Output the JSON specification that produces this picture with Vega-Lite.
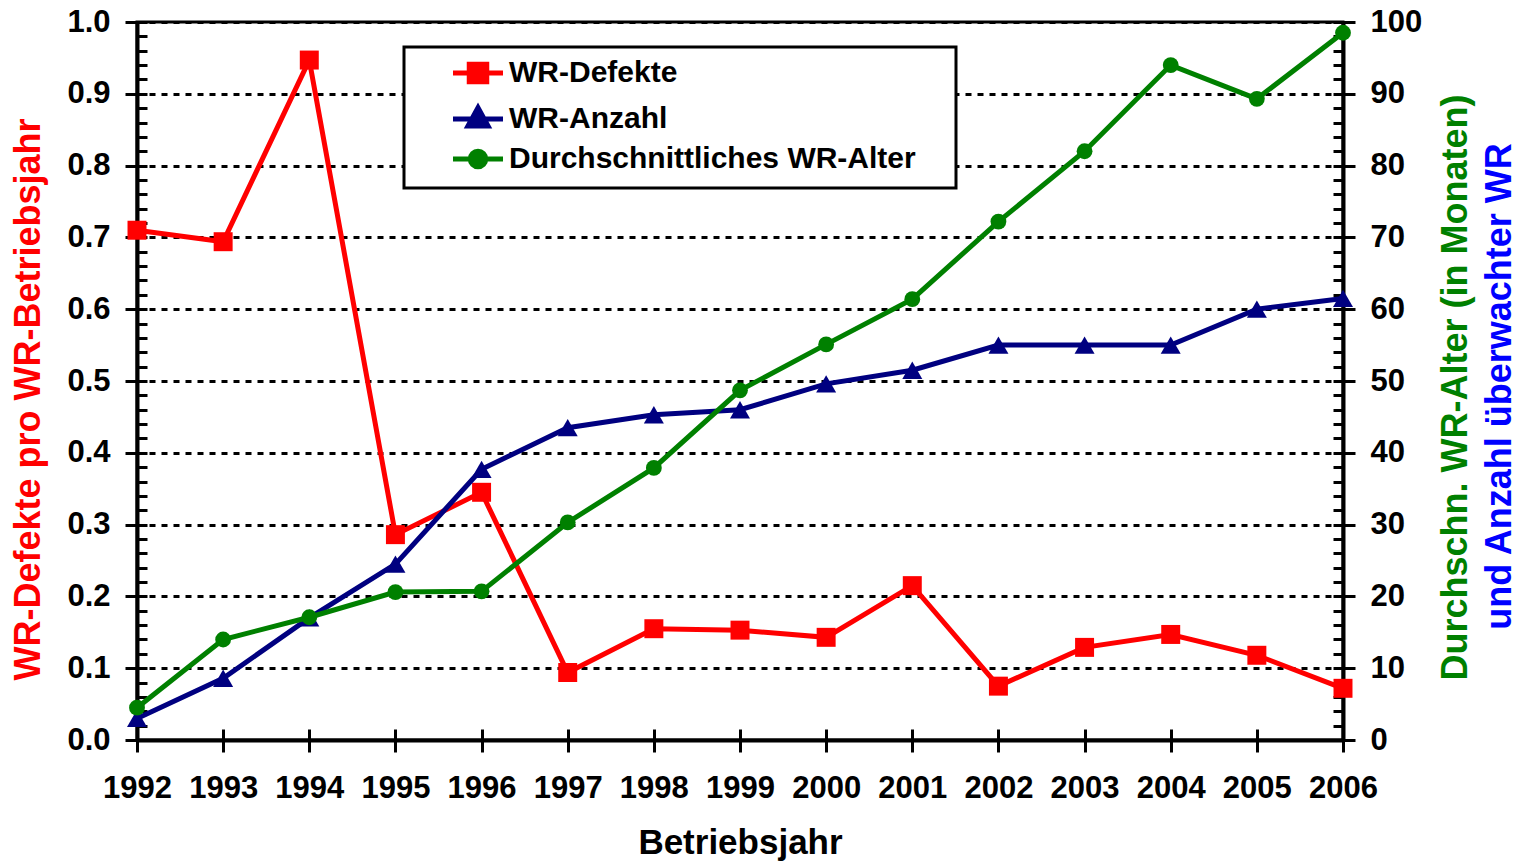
{
  "$schema": "https://vega.github.io/schema/vega-lite/v6.json",
  "width": 1206,
  "height": 718,
  "autosize": "none",
  "padding": {"left": 137, "top": 22, "right": 180, "bottom": 123},
  "background": "white",
  "config": {
    "view": {"stroke": "black", "strokeWidth": 3},
    "font": "Liberation Sans"
  },
  "datasets": {
    "defekte": [
      {"year": 1992, "value": 0.710, "series": "WR-Defekte"},
      {"year": 1993, "value": 0.694, "series": "WR-Defekte"},
      {"year": 1994, "value": 0.947, "series": "WR-Defekte"},
      {"year": 1995, "value": 0.286, "series": "WR-Defekte"},
      {"year": 1996, "value": 0.345, "series": "WR-Defekte"},
      {"year": 1997, "value": 0.094, "series": "WR-Defekte"},
      {"year": 1998, "value": 0.155, "series": "WR-Defekte"},
      {"year": 1999, "value": 0.153, "series": "WR-Defekte"},
      {"year": 2000, "value": 0.143, "series": "WR-Defekte"},
      {"year": 2001, "value": 0.215, "series": "WR-Defekte"},
      {"year": 2002, "value": 0.075, "series": "WR-Defekte"},
      {"year": 2003, "value": 0.129, "series": "WR-Defekte"},
      {"year": 2004, "value": 0.147, "series": "WR-Defekte"},
      {"year": 2005, "value": 0.118, "series": "WR-Defekte"},
      {"year": 2006, "value": 0.072, "series": "WR-Defekte"}
    ],
    "anzahl": [
      {"year": 1992, "value": 3.0, "series": "WR-Anzahl"},
      {"year": 1993, "value": 8.6, "series": "WR-Anzahl"},
      {"year": 1994, "value": 17.0, "series": "WR-Anzahl"},
      {"year": 1995, "value": 24.5, "series": "WR-Anzahl"},
      {"year": 1996, "value": 37.7, "series": "WR-Anzahl"},
      {"year": 1997, "value": 43.5, "series": "WR-Anzahl"},
      {"year": 1998, "value": 45.3, "series": "WR-Anzahl"},
      {"year": 1999, "value": 46.0, "series": "WR-Anzahl"},
      {"year": 2000, "value": 49.6, "series": "WR-Anzahl"},
      {"year": 2001, "value": 51.5, "series": "WR-Anzahl"},
      {"year": 2002, "value": 55.0, "series": "WR-Anzahl"},
      {"year": 2003, "value": 55.0, "series": "WR-Anzahl"},
      {"year": 2004, "value": 55.0, "series": "WR-Anzahl"},
      {"year": 2005, "value": 60.0, "series": "WR-Anzahl"},
      {"year": 2006, "value": 61.5, "series": "WR-Anzahl"}
    ],
    "alter": [
      {"year": 1992, "value": 4.5, "series": "Durchschnittliches WR-Alter"},
      {"year": 1993, "value": 14.0, "series": "Durchschnittliches WR-Alter"},
      {"year": 1994, "value": 17.1, "series": "Durchschnittliches WR-Alter"},
      {"year": 1995, "value": 20.6, "series": "Durchschnittliches WR-Alter"},
      {"year": 1996, "value": 20.7, "series": "Durchschnittliches WR-Alter"},
      {"year": 1997, "value": 30.3, "series": "Durchschnittliches WR-Alter"},
      {"year": 1998, "value": 37.9, "series": "Durchschnittliches WR-Alter"},
      {"year": 1999, "value": 48.7, "series": "Durchschnittliches WR-Alter"},
      {"year": 2000, "value": 55.1, "series": "Durchschnittliches WR-Alter"},
      {"year": 2001, "value": 61.4, "series": "Durchschnittliches WR-Alter"},
      {"year": 2002, "value": 72.2, "series": "Durchschnittliches WR-Alter"},
      {"year": 2003, "value": 82.0, "series": "Durchschnittliches WR-Alter"},
      {"year": 2004, "value": 94.0, "series": "Durchschnittliches WR-Alter"},
      {"year": 2005, "value": 89.3, "series": "Durchschnittliches WR-Alter"},
      {"year": 2006, "value": 98.5, "series": "Durchschnittliches WR-Alter"}
    ]
  },
  "layer": [
    {
      "data": {"name": "defekte"},
      "layer": [
        {
          "mark": {"type": "line", "strokeWidth": 5},
          "encoding": {
            "x": {
              "field": "year", "type": "quantitative",
              "scale": {"domain": [1992, 2006], "nice": false, "zero": false},
              "axis": {
                "orient": "bottom",
                "values": [1992, 1993, 1994, 1995, 1996, 1997, 1998, 1999, 2000, 2001, 2002, 2003, 2004, 2005, 2006],
                "format": "d",
                "tickSize": 12, "tickWidth": 3, "tickColor": "black",
                "domainColor": "black", "domainWidth": 4,
                "labelFont": "Liberation Sans", "labelFontSize": 31, "labelFontWeight": "bold", "labelColor": "black",
                "labelPadding": 21, "labelFlush": false, "labelOverlap": false,
                "grid": false,
                "title": "Betriebsjahr",
                "titleFont": "Liberation Sans", "titleFontSize": 35, "titleFontWeight": "bold", "titleColor": "black",
                "titleX": 603, "titleY": 113, "titleBaseline": "alphabetic", "titleAlign": "center"
              }
            },
            "y": {
              "field": "value", "type": "quantitative",
              "scale": {"domain": [0, 1], "nice": false, "zero": false},
              "axis": {
                "orient": "left",
                "values": [0, 0.1, 0.2, 0.3, 0.4, 0.5, 0.6, 0.7, 0.8, 0.9, 1.0],
                "format": ".1f",
                "tickSize": 12, "tickWidth": 3, "tickColor": "black",
                "domainColor": "black", "domainWidth": 4,
                "labelFont": "Liberation Sans", "labelFontSize": 31, "labelFontWeight": "bold", "labelColor": "black",
                "labelPadding": 15, "labelOverlap": false, "labelFlush": false,
                "grid": true, "gridColor": "black", "gridWidth": 3, "gridDash": [6, 6],
                "title": "WR-Defekte pro WR-Betriebsjahr",
                "titleFont": "Liberation Sans", "titleFontSize": 36, "titleFontWeight": "bold", "titleColor": "#ff0000",
                "titleAngle": 270, "titleAlign": "center", "titleBaseline": "alphabetic",
                "titleX": -98, "titleY": 377
              }
            },
            "color": {
              "field": "series", "type": "nominal",
              "scale": {
                "domain": ["WR-Defekte", "WR-Anzahl", "Durchschnittliches WR-Alter"],
                "range": ["#ff0000", "#000080", "#008000"]
              },
              "legend": {
                "orient": "none", "legendX": 267, "legendY": 25,
                "title": null,
                "fillColor": "white", "strokeColor": "black",
                "padding": 11,
                "symbolOffset": 48,
                "symbolSize": 625,
                "symbolStrokeWidth": 4,
                "labelFont": "Liberation Sans", "labelFontSize": 30, "labelFontWeight": "bold", "labelColor": "black",
                "labelOffset": 16, "rowPadding": 5, "labelLimit": 700,
                "encode": {
                  "symbols": {
                    "update": {
                      "shape": {"signal": "datum.value === 'WR-Defekte' ? 'M-2,0H2M-0.7,-0.7H0.7V0.7H-0.7ZM36.5,0' : datum.value === 'WR-Anzahl' ? 'M-2,0H2M0,-0.9L0.8,0.55H-0.8ZM36.5,0' : 'M-2,0H2M-0.62,0A0.62,0.62,0,1,0,0.62,0A0.62,0.62,0,1,0,-0.62,0ZM36.5,0'"},
                      "fill": {"signal": "datum.value === 'WR-Defekte' ? '#ff0000' : datum.value === 'WR-Anzahl' ? '#000080' : '#008000'"},
                      "stroke": {"signal": "datum.value === 'WR-Defekte' ? '#ff0000' : datum.value === 'WR-Anzahl' ? '#000080' : '#008000'"},
                      "strokeWidth": {"value": 5},
                      "opacity": {"value": 1}
                    }
                  },
                  "legend": {"update": {"strokeWidth": {"value": 3}}}
                }
              }
            }
          }
        },
        {
          "mark": {"type": "point", "shape": "square", "filled": true, "size": 360, "opacity": 1, "color": "#ff0000"},
          "encoding": {
            "x": {
              "field": "year", "type": "quantitative",
              "scale": {"domain": [1992, 2006], "nice": false, "zero": false},
              "axis": {
                "orient": "bottom",
                "values": [1992, 1993, 1994, 1995, 1996, 1997, 1998, 1999, 2000, 2001, 2002, 2003, 2004, 2005, 2006],
                "tickSize": -11, "tickWidth": 3, "tickColor": "black",
                "labels": false, "domain": false, "grid": false, "title": null
              }
            },
            "y": {
              "field": "value", "type": "quantitative",
              "scale": {"domain": [0, 1], "nice": false, "zero": false},
              "axis": {
                "orient": "left",
                "values": [0, 0.02, 0.04, 0.06, 0.08, 0.1, 0.12, 0.14, 0.16, 0.18, 0.2, 0.22, 0.24, 0.26, 0.28, 0.3, 0.32, 0.34, 0.36, 0.38, 0.4, 0.42, 0.44, 0.46, 0.48, 0.5, 0.52, 0.54, 0.56, 0.58, 0.6, 0.62, 0.64, 0.66, 0.68, 0.7, 0.72, 0.74, 0.76, 0.78, 0.8, 0.82, 0.84, 0.86, 0.88, 0.9, 0.92, 0.94, 0.96, 0.98, 1.0],
                "tickSize": -10, "tickWidth": 3, "tickColor": "black",
                "labels": false, "domain": false, "grid": false, "title": null
              }
            }
          }
        }
      ],
      "resolve": {"scale": {"y": "shared"}, "axis": {"x": "independent", "y": "independent"}}
    },
    {
      "data": {"name": "anzahl"},
      "layer": [
        {
          "mark": {"type": "line", "strokeWidth": 5},
          "encoding": {
            "x": {"field": "year", "type": "quantitative", "scale": {"domain": [1992, 2006], "nice": false, "zero": false}, "axis": null},
            "y": {
              "field": "value", "type": "quantitative",
              "scale": {"domain": [0, 100], "nice": false, "zero": false},
              "axis": {
                "orient": "right",
                "labels": false, "ticks": false, "domain": false, "grid": false,
                "title": "und Anzahl überwachter WR",
                "titleFont": "Liberation Sans", "titleFontSize": 36, "titleFontWeight": "bold", "titleColor": "#0000ff",
                "titleAngle": 270, "titleAlign": "center", "titleBaseline": "alphabetic",
                "titleX": 167, "titleY": 364
              }
            },
            "color": {
              "field": "series", "type": "nominal",
              "scale": {
                "domain": ["WR-Defekte", "WR-Anzahl", "Durchschnittliches WR-Alter"],
                "range": ["#ff0000", "#000080", "#008000"]
              },
              "legend": null
            }
          }
        },
        {
          "mark": {"type": "point", "shape": "triangle-up", "filled": true, "size": 400, "opacity": 1, "color": "#000080"},
          "encoding": {
            "x": {"field": "year", "type": "quantitative", "scale": {"domain": [1992, 2006], "nice": false, "zero": false}, "axis": null},
            "y": {"field": "value", "type": "quantitative", "scale": {"domain": [0, 100], "nice": false, "zero": false}, "axis": null}
          }
        }
      ],
      "resolve": {"scale": {"y": "shared"}, "axis": {"x": "independent", "y": "independent"}}
    },
    {
      "data": {"name": "alter"},
      "layer": [
        {
          "mark": {"type": "line", "strokeWidth": 5},
          "encoding": {
            "x": {"field": "year", "type": "quantitative", "scale": {"domain": [1992, 2006], "nice": false, "zero": false}, "axis": null},
            "y": {
              "field": "value", "type": "quantitative",
              "scale": {"domain": [0, 100], "nice": false, "zero": false},
              "axis": {
                "orient": "right",
                "values": [0, 10, 20, 30, 40, 50, 60, 70, 80, 90, 100],
                "format": "d",
                "tickSize": 12, "tickWidth": 3, "tickColor": "black",
                "domainColor": "black", "domainWidth": 4,
                "labelFont": "Liberation Sans", "labelFontSize": 31, "labelFontWeight": "bold", "labelColor": "black",
                "labelPadding": 15, "labelOverlap": false, "labelFlush": false,
                "grid": false,
                "title": "Durchschn. WR-Alter (in Monaten)",
                "titleFont": "Liberation Sans", "titleFontSize": 36, "titleFontWeight": "bold", "titleColor": "#008000",
                "titleAngle": 270, "titleAlign": "center", "titleBaseline": "alphabetic",
                "titleX": 123, "titleY": 365
              }
            },
            "color": {
              "field": "series", "type": "nominal",
              "scale": {
                "domain": ["WR-Defekte", "WR-Anzahl", "Durchschnittliches WR-Alter"],
                "range": ["#ff0000", "#000080", "#008000"]
              },
              "legend": null
            }
          }
        },
        {
          "mark": {"type": "point", "shape": "circle", "filled": true, "size": 250, "opacity": 1, "color": "#008000"},
          "encoding": {
            "x": {"field": "year", "type": "quantitative", "scale": {"domain": [1992, 2006], "nice": false, "zero": false}, "axis": null},
            "y": {
              "field": "value", "type": "quantitative",
              "scale": {"domain": [0, 100], "nice": false, "zero": false},
              "axis": {
                "orient": "right",
                "values": [0, 2, 4, 6, 8, 10, 12, 14, 16, 18, 20, 22, 24, 26, 28, 30, 32, 34, 36, 38, 40, 42, 44, 46, 48, 50, 52, 54, 56, 58, 60, 62, 64, 66, 68, 70, 72, 74, 76, 78, 80, 82, 84, 86, 88, 90, 92, 94, 96, 98, 100],
                "tickSize": -10, "tickWidth": 3, "tickColor": "black",
                "labels": false, "domain": false, "grid": false, "title": null
              }
            }
          }
        }
      ],
      "resolve": {"scale": {"y": "shared"}, "axis": {"x": "independent", "y": "independent"}}
    }
  ],
  "resolve": {"scale": {"y": "independent"}, "axis": {"x": "independent", "y": "independent"}}
}
